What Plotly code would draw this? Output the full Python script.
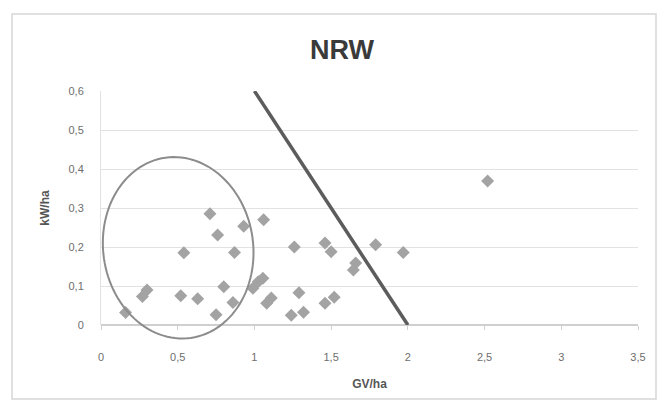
import numpy as np
import plotly.graph_objects as go

# ---- data ----
GV_HA = [0.16, 0.27, 0.30, 0.52, 0.54, 0.63, 0.71, 0.76, 0.75, 0.80, 0.86, 0.87,
         0.93, 0.99, 1.025, 1.055, 1.06, 1.08, 1.11, 1.24, 1.26, 1.29, 1.32,
         1.46, 1.50, 1.46, 1.52, 1.645, 1.66, 1.79, 1.97, 2.52]
KW_HA = [0.032, 0.073, 0.09, 0.075, 0.185, 0.067, 0.285, 0.231, 0.026, 0.098, 0.058, 0.186,
         0.253, 0.094, 0.111, 0.12, 0.27, 0.056, 0.069, 0.025, 0.2, 0.083, 0.033,
         0.21, 0.188, 0.056, 0.071, 0.141, 0.159, 0.206, 0.186, 0.369]

LINE_X = [1.0, 2.0]
LINE_Y = [0.6, 0.0]

X_TICKS = [0, 0.5, 1, 1.5, 2, 2.5, 3, 3.5]
X_TICKTEXT = ["0", "0,5", "1", "1,5", "2", "2,5", "3", "3,5"]
Y_TICKS = [0, 0.1, 0.2, 0.3, 0.4, 0.5, 0.6]
Y_TICKTEXT = ["0", "0,1", "0,2", "0,3", "0,4", "0,5", "0,6"]

X_RANGE = [0, 3.5]
Y_RANGE = [0, 0.6]

# ellipse annotation (data-space centre, radii in pixels, tilt)
ELL_CX, ELL_CY = 0.503, 0.198
ELL_A_PX, ELL_B_PX = 75, 91   # horizontal-ish / vertical-ish semi axes
ELL_TILT_DEG = 8

W, H = 659, 400
ML, MR, MT, MB = 101, 21, 91, 75
pw = W - ML - MR
ph = H - MT - MB

# ellipse path in paper coordinates
th = np.radians(ELL_TILT_DEG)
t = np.linspace(0, 2 * np.pi, 121)
u = ELL_A_PX * np.cos(t) * np.cos(th) - ELL_B_PX * np.sin(t) * np.sin(th)
v = ELL_A_PX * np.cos(t) * np.sin(th) + ELL_B_PX * np.sin(t) * np.cos(th)
cxp = (ELL_CX - X_RANGE[0]) / (X_RANGE[1] - X_RANGE[0])
cyp = (ELL_CY - Y_RANGE[0]) / (Y_RANGE[1] - Y_RANGE[0])
px = cxp + u / pw
py = cyp + v / ph
path = "M " + " L ".join(f"{a:.5f},{b:.5f}" for a, b in zip(px, py)) + " Z"

fig = go.Figure()
fig.add_trace(go.Scatter(
    x=GV_HA, y=KW_HA, mode="markers",
    marker=dict(symbol="diamond", size=10, color="#a3a3a3"),
    cliponaxis=False, showlegend=False))
fig.add_trace(go.Scatter(
    x=LINE_X, y=LINE_Y, mode="lines",
    line=dict(color="#5c5c5c", width=3.5), showlegend=False))

shapes = [
    dict(type="path", xref="paper", yref="paper", path=path,
         line=dict(color="#8c8c8c", width=2), fillcolor="rgba(0,0,0,0)"),
    # outer chart frame
    dict(type="rect", xref="paper", yref="paper",
         x0=(12 - ML) / pw, x1=(656 - ML) / pw,
         y0=(H - MB - 399) / ph, y1=(H - MB - 14) / ph,
         line=dict(color="#d6d6d6", width=1.5), fillcolor="rgba(0,0,0,0)", layer="below"),
]

fig.update_layout(
    width=W, height=H,
    margin=dict(l=ML, r=MR, t=MT, b=MB),
    paper_bgcolor="white", plot_bgcolor="white",
    font=dict(family="Liberation Sans, Arial, sans-serif", color="#6e6e6e", size=11),
    title=dict(text="<b>NRW</b>", x=(342) / W, xanchor="center",
               y=1 - 50 / H, yanchor="middle",
               font=dict(size=27, color="#3a3a3a", family="Liberation Sans, Arial, sans-serif")),
    shapes=shapes,
    xaxis=dict(range=X_RANGE, tickvals=X_TICKS, ticktext=X_TICKTEXT,
               showgrid=False, zeroline=False, showline=False,
               ticks="outside", ticklen=4, tickcolor="#d0d0d0",
               ticklabelstandoff=18,
               title=dict(text="<b>GV/ha</b>", standoff=17,
                          font=dict(size=12, color="#555555"))),
    yaxis=dict(range=Y_RANGE, tickvals=Y_TICKS, ticktext=Y_TICKTEXT,
               showgrid=True, gridcolor="#e2e2e2", gridwidth=1,
               zeroline=True, zerolinecolor="#cfcfcf", zerolinewidth=1.5,
               showline=True, linecolor="#e2e2e2", linewidth=1,
               ticks="", ticklabelstandoff=14,
               title=dict(text="<b>kW/ha</b>", standoff=16,
                          font=dict(size=12, color="#555555"))),
)

fig.write_html("out.html")
